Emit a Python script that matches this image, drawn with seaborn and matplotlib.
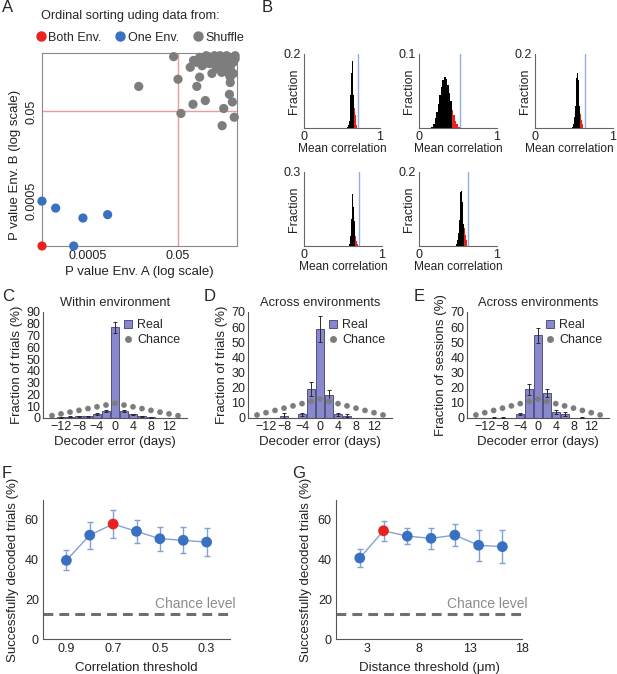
import matplotlib
matplotlib.use('Agg')
import matplotlib.pyplot as plt
import matplotlib.transforms as mtransforms
from matplotlib.lines import Line2D
import seaborn as sns
import numpy as np

# ── DATA ──────────────────────────────────────────────────────────
# A: p values of ordinal sorting
both_x = [5e-5]
both_y = [5e-5]
one_x = [5e-5, 1.0e-4, 4.0e-4, 1.4e-3, 2.5e-4]
one_y = [5.0e-4, 3.5e-4, 2.1e-4, 2.5e-4, 5e-5]
shuf_x = [0.0068, 0.040, 0.050, 0.058, 0.093, 0.107, 0.13, 0.15, 0.20, 0.28,
          0.47, 0.51, 0.68, 0.71, 0.71, 0.79, 0.87, 0.83, 0.46, 0.35,
          0.13, 0.15, 0.19, 0.23, 0.30, 0.39, 0.46, 0.59, 0.76, 0.91,
          0.83, 0.19, 0.25, 0.32, 0.42, 0.55, 0.71, 0.17, 0.21, 0.42,
          0.32, 0.65, 0.50, 0.11, 0.91, 0.59, 0.68]
shuf_y = [0.18, 0.83, 0.26, 0.045, 0.48, 0.072, 0.18, 0.29, 0.087, 0.35,
          0.024, 0.058, 0.12, 0.29, 0.22, 0.081, 0.037, 0.35, 0.37, 0.45,
          0.62, 0.80, 0.68, 0.83, 0.74, 0.83, 0.62, 0.87, 0.74, 0.87,
          0.62, 0.58, 0.58, 0.62, 0.48, 0.52, 0.48, 0.52, 0.87, 0.87,
          0.87, 0.62, 0.80, 0.68, 0.74, 0.41, 0.33]

# B: shuffle distributions of mean correlation (bin centres, fractions)
b1_centers = [0.575, 0.585, 0.595, 0.605, 0.615, 0.625, 0.635, 0.645, 0.655, 0.665, 0.675, 0.685, 0.695]
b1_heights = [0.003, 0.008, 0.020, 0.045, 0.090, 0.150, 0.180, 0.150, 0.090, 0.055, 0.035, 0.018, 0.007]
b2_centers = [0.17, 0.19, 0.21, 0.23, 0.25, 0.27, 0.29, 0.31, 0.33, 0.35, 0.37, 0.39, 0.41, 0.43, 0.45, 0.47, 0.49, 0.51]
b2_heights = [0.002, 0.006, 0.013, 0.022, 0.033, 0.045, 0.056, 0.065, 0.069, 0.066, 0.058, 0.047, 0.036, 0.025, 0.017, 0.010, 0.005, 0.002]
b3_centers = [0.485, 0.495, 0.505, 0.515, 0.525, 0.535, 0.545, 0.555, 0.565, 0.575, 0.585, 0.595, 0.605, 0.615]
b3_heights = [0.004, 0.012, 0.030, 0.060, 0.100, 0.135, 0.150, 0.130, 0.090, 0.060, 0.038, 0.022, 0.010, 0.003]
b4_centers = [0.585, 0.595, 0.605, 0.615, 0.625, 0.635, 0.645, 0.655, 0.665, 0.675, 0.685]
b4_heights = [0.010, 0.040, 0.110, 0.190, 0.210, 0.160, 0.100, 0.065, 0.040, 0.020, 0.007]
b5_centers = [0.485, 0.495, 0.505, 0.515, 0.525, 0.535, 0.545, 0.555, 0.565, 0.575, 0.585, 0.595, 0.605, 0.615]
b5_heights = [0.005, 0.015, 0.035, 0.070, 0.110, 0.145, 0.150, 0.120, 0.085, 0.060, 0.050, 0.030, 0.015, 0.004]
b_binwidths = [0.01, 0.02, 0.01, 0.01, 0.01]
b_thresholds = [0.66, 0.42, 0.58, 0.65, 0.58]
b_real = [0.715, 0.52, 0.64, 0.70, 0.63]
b_ymax = [0.2, 0.1, 0.2, 0.3, 0.2]

# C-E: decoder error distributions
err_days = [-14, -12, -10, -8, -6, -4, -2, 0, 2, 4, 6, 8, 10, 12, 14]
chance = [2, 3.5, 5, 6.5, 8, 9.5, 11, 12.5, 11, 9.5, 8, 6.5, 5, 3.5, 2]
c_real = [0, 0.5, 1.0, 1.5, 1.5, 3.5, 6.0, 77.0, 6.0, 3.0, 1.5, 0.5, 0, 0, 0]
c_err = [0, 0.3, 0.4, 0.5, 0.5, 0.8, 1.0, 4.5, 0.8, 0.7, 0.4, 0.3, 0, 0, 0]
d_real = [0, 0, 0, 1.5, 0, 2.5, 19.0, 59.0, 15.0, 2.5, 1.5, 0, 0, 0, 0]
d_err = [0, 0, 0, 1.5, 0, 1.0, 4.5, 8.5, 3.3, 1.0, 1.0, 0, 0, 0, 0]
e_real = [0, 0, 0.3, 0.3, 0, 2.5, 19.0, 54.5, 16.5, 4.0, 2.5, 0, 0.3, 0, 0]
e_err = [0, 0, 0.3, 0.3, 0, 0.6, 3.5, 5.0, 2.8, 1.2, 1.5, 0, 0.3, 0, 0]

# F-G: decoding success vs threshold
corr_thr = [0.9, 0.8, 0.7, 0.6, 0.5, 0.4, 0.3]
f_mean = [39.6, 52.3, 57.9, 54.2, 50.5, 49.7, 48.8]
f_err = [5.0, 6.8, 7.0, 5.7, 6.0, 6.5, 7.1]
f_best = 2
dist_thr = [2.3, 4.6, 6.9, 9.2, 11.5, 13.8, 16.1]
g_mean = [40.8, 54.5, 51.8, 50.7, 52.3, 47.2, 46.5]
g_err = [4.6, 5.0, 4.2, 5.2, 5.7, 7.9, 8.3]
g_best = 1
chance_level = 12.5

# ── STYLE ─────────────────────────────────────────────────────────
sns.set_theme(style='white')
plt.rcParams['font.family'] = ['Liberation Sans', 'DejaVu Sans']
plt.rcParams['font.size'] = 9
plt.rcParams['axes.labelsize'] = 9.5
plt.rcParams['xtick.labelsize'] = 9
plt.rcParams['ytick.labelsize'] = 9
plt.rcParams['axes.labelcolor'] = '#222222'
plt.rcParams['xtick.color'] = '#222222'
plt.rcParams['ytick.color'] = '#222222'

RED = '#e8231f'
BLUE = '#3a70c2'
GRAY = '#7d7d7d'
BAR = '#8888ca'
BAR_EDGE = '#3f3f7a'
LIGHTBLUE = '#82a2d6'

W, H = 617, 674
fig = plt.figure(figsize=(W / 100, H / 100), dpi=100)


def add_ax(l, t, r, b):
    return fig.add_axes([l / W, 1 - b / H, (r - l) / W, (b - t) / H])


def style_spines(ax, box=False, color='#555555'):
    for side in ['top', 'right']:
        ax.spines[side].set_visible(box)
    for sp in ax.spines.values():
        sp.set_color(color)
        sp.set_linewidth(0.8)


# ── PANEL A ───────────────────────────────────────────────────────
axA = add_ax(42, 53, 237, 246)
axA.set_xscale('log')
axA.set_yscale('log')
axA.axvline(0.05, color='#ea9c9c', lw=1, zorder=1)
axA.axhline(0.05, color='#ea9c9c', lw=1, zorder=1)
sns.scatterplot(x=shuf_x, y=shuf_y, color=GRAY, s=44, edgecolor='none', ax=axA, zorder=3)
sns.scatterplot(x=one_x, y=one_y, color=BLUE, s=44, edgecolor='none', ax=axA, zorder=3)
sns.scatterplot(x=both_x, y=both_y, color=RED, s=44, edgecolor='none', ax=axA, zorder=4)
for coll in axA.collections:
    coll.set_clip_on(False)
axA.set_xlim(5e-5, 1)
axA.set_ylim(5e-5, 1)
axA.minorticks_off()
axA.set_xticks([5e-4, 5e-2])
axA.set_xticklabels(['0.0005', '0.05'])
axA.set_yticks([5e-4, 5e-2])
axA.set_yticklabels(['0.0005', '0.05'], rotation=90, va='center')
axA.tick_params(direction='in', length=3, pad=3)
style_spines(axA, box=True, color='#8a8a8a')
axA.set_xlabel('P value Env. A (log scale)', labelpad=3)
axA.set_ylabel('P value Env. B (log scale)')
axA.yaxis.set_label_coords(-0.11, 0.42)
axA.text(0.455, 1.19, 'Ordinal sorting uding data from:', transform=axA.transAxes,
         ha='center', va='center', fontsize=9.2)
handlesA = [Line2D([], [], marker='o', ls='', color=c, markersize=6.5, label=l)
            for c, l in [(RED, 'Both Env.'), (BLUE, 'One Env.'), (GRAY, 'Shuffle')]]
axA.legend(handles=handlesA, ncol=3, loc='center', bbox_to_anchor=(0.5, 1.08),
           frameon=False, handletextpad=0.15, columnspacing=1.05, handlelength=0.9,
           fontsize=9, borderaxespad=0, borderpad=0)

# ── PANEL B ───────────────────────────────────────────────────────
b_boxes = [(304, 54, 380, 128), (419, 54, 497, 128), (535, 54, 613, 128),
           (304, 172, 382, 246), (419, 172, 497, 246)]
b_centers = [b1_centers, b2_centers, b3_centers, b4_centers, b5_centers]
b_heights = [b1_heights, b2_heights, b3_heights, b4_heights, b5_heights]
for i, box in enumerate(b_boxes):
    ax = add_ax(*box)
    c = np.array(b_centers[i])
    h = np.array(b_heights[i])
    tail = c >= b_thresholds[i]
    ax.bar(c[~tail], h[~tail], width=b_binwidths[i], color='black', linewidth=0)
    ax.bar(c[tail], h[tail], width=b_binwidths[i], color=RED, linewidth=0)
    ax.axvline(b_real[i], color='#8fb0e0', lw=1)
    ax.set_xlim(0, 1)
    ax.set_ylim(0, b_ymax[i])
    ax.set_xticks([0, 1])
    ax.set_xticklabels(['0', '1'])
    ax.set_yticks([b_ymax[i]])
    ax.set_yticklabels([f'{b_ymax[i]:g}'])
    ax.tick_params(length=0, pad=2)
    style_spines(ax, color='#666666')
    ax.set_xlabel('Mean correlation', labelpad=1, fontsize=8.6)
    ax.xaxis.set_label_coords(0.44 if i == 2 else 0.5, -0.2)
    ax.set_ylabel('Fraction', fontsize=9)
    ax.yaxis.set_label_coords(-0.05, 0.5)

# ── PANELS C-E ────────────────────────────────────────────────────
cde = [((43, 312, 187, 418), c_real, c_err, 90, 'Within environment', 'Fraction of trials (%)'),
       ((248, 312, 392, 418), d_real, d_err, 70, 'Across environments', 'Fraction of trials (%)'),
       ((467, 312, 609, 418), e_real, e_err, 70, 'Across environments', 'Fraction of sessions (%)')]
for box, real, err, ymax, title, ylab in cde:
    ax = add_ax(*box)
    sns.barplot(x=err_days, y=real, native_scale=True, width=0.9, color=BAR,
                saturation=1, edgecolor=BAR_EDGE, linewidth=0.6, errorbar=None, ax=ax)
    d = np.array(err_days)
    r = np.array(real)
    e = np.array(err)
    m = e > 0
    ax.errorbar(d[m], r[m], yerr=e[m], fmt='none', ecolor='#2a2a2a', elinewidth=0.7,
                capsize=1.5, capthick=0.7, zorder=4)
    sns.scatterplot(x=err_days, y=chance, color=GRAY, s=17, edgecolor='none', ax=ax, zorder=5)
    ax.set_xlim(-16, 16)
    ax.set_ylim(0, ymax)
    ax.set_xticks([-12, -8, -4, 0, 4, 8, 12])
    ax.set_yticks(range(0, ymax + 1, 10))
    ax.tick_params(direction='in', length=2, pad=2)
    style_spines(ax)
    ax.set_title(title, fontsize=9.3, pad=4)
    ax.set_xlabel('Decoder error (days)', labelpad=2)
    ax.set_ylabel(ylab, labelpad=2)
    handles = [Line2D([], [], marker='s', ls='', color=BAR, markeredgecolor=BAR_EDGE,
                      markeredgewidth=0.6, markersize=5.5, label='Real'),
               Line2D([], [], marker='o', ls='', color=GRAY, markersize=4, label='Chance')]
    ax.legend(handles=handles, loc='upper right', bbox_to_anchor=(1.03, 1.04), frameon=False,
              handletextpad=0.2, handlelength=1.0, labelspacing=0.25, fontsize=9)

# ── PANELS F-G ────────────────────────────────────────────────────
fg = [((43, 500, 230, 639), corr_thr, f_mean, f_err, f_best, (1.0, 0.2),
       [0.9, 0.7, 0.5, 0.3], 'Correlation threshold'),
      ((336, 500, 522, 639), dist_thr, g_mean, g_err, g_best, (0, 18),
       [3, 8, 13, 18], 'Distance threshold (μm)')]
for box, xs, ys, es, best, xlim, xt, xlab in fg:
    ax = add_ax(*box)
    ax.axhline(chance_level, color='#6f6f6f', ls=(0, (3.2, 2.0)), lw=2.2, zorder=1)
    trans = mtransforms.blended_transform_factory(ax.transAxes, ax.transData)
    ax.text(1.03, chance_level + 5, 'Chance level', transform=trans, ha='right', va='center',
            color='#8c8c8c', fontsize=10)
    sns.lineplot(x=xs, y=ys, color=LIGHTBLUE, lw=1, ax=ax, zorder=2)
    ax.errorbar(xs, ys, yerr=es, fmt='none', ecolor=LIGHTBLUE, elinewidth=1,
                capsize=2, capthick=1, zorder=2)
    xa = np.array(xs)
    ya = np.array(ys)
    keep = np.arange(len(xs)) != best
    sns.scatterplot(x=xa[keep], y=ya[keep], color=BLUE, s=60, edgecolor='none', ax=ax, zorder=3)
    sns.scatterplot(x=xa[~keep], y=ya[~keep], color=RED, s=60, edgecolor='none', ax=ax, zorder=3)
    ax.set_xlim(*xlim)
    ax.set_ylim(0, 70)
    ax.set_xticks(xt)
    ax.set_xticklabels([f'{v:g}' for v in xt])
    ax.set_yticks([0, 20, 40, 60])
    ax.tick_params(direction='in', length=2, pad=3)
    style_spines(ax)
    ax.set_xlabel(xlab, labelpad=5)
    ax.set_ylabel('Successfully decoded trials (%)', labelpad=4)

# ── PANEL LETTERS ─────────────────────────────────────────────────
for letter, x, y in [('A', 2, 8), ('B', 262, 8), ('C', 2, 297), ('D', 204, 297),
                     ('E', 414, 297), ('F', 2, 473), ('G', 292, 473)]:
    fig.text(x / W, 1 - y / H, letter, fontsize=12, ha='left', va='center')

fig.savefig('out.png', dpi=100)
